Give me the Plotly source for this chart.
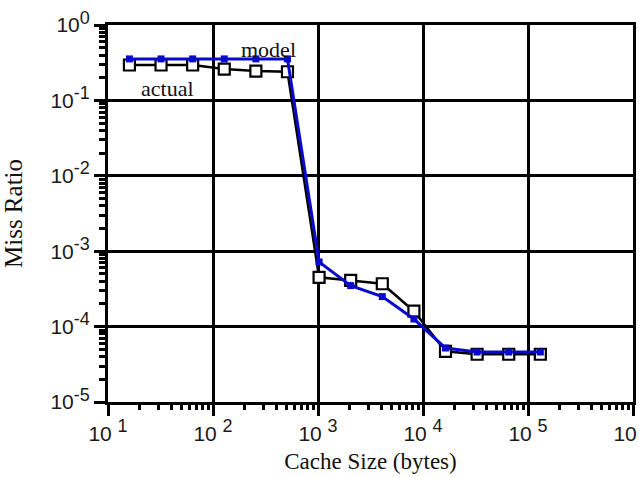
import plotly.graph_objects as go

# Cache sizes in bytes and miss ratios
cache_size = [16, 32, 64, 128, 256, 512, 1024, 2048, 4096, 8192, 16384, 32768, 65536, 131072]
actual_miss = [0.295, 0.295, 0.295, 0.26, 0.245, 0.24, 4.5e-4, 4.1e-4, 3.7e-4, 1.6e-4, 4.7e-5, 4.3e-5, 4.3e-5, 4.3e-5]
model_miss = [0.355, 0.355, 0.355, 0.355, 0.355, 0.355, 7.2e-4, 3.5e-4, 2.5e-4, 1.26e-4, 5.2e-5, 4.6e-5, 4.6e-5, 4.6e-5]

x_exponents = [1, 2, 3, 4, 5, 6]
y_exponents = [0, -1, -2, -3, -4, -5]

TICK_FONT = dict(family="Liberation Sans, Arial, sans-serif", size=21, color="#1a1a1a")
SERIF = "Liberation Serif, Times New Roman, serif"
BLUE = "#0a0acc"


def power_label(exp, gap=""):
    return f"10{gap}<sup><span style='font-size:18px'>{exp}</span></sup>"


fig = go.Figure()

fig.add_trace(go.Scatter(
    x=cache_size, y=actual_miss, mode="lines+markers", name="actual",
    line=dict(color="black", width=2.5),
    marker=dict(symbol="square", size=11, color="white", line=dict(color="black", width=2.2)),
))
fig.add_trace(go.Scatter(
    x=cache_size, y=model_miss, mode="lines+markers", name="model",
    line=dict(color=BLUE, width=3),
    marker=dict(symbol="square", size=7, color=BLUE, line=dict(width=0)),
))

fig.add_annotation(x=2.524, y=-0.33, text="model", showarrow=False,
                   font=dict(family=SERIF, size=22, color="#111"))
fig.add_annotation(x=1.57, y=-0.84, text="actual", showarrow=False,
                   font=dict(family=SERIF, size=22, color="#111"))

axis_common = dict(
    showline=True, linecolor="black", linewidth=3, mirror=True,
    showgrid=True, gridcolor="black", gridwidth=3,
    ticks="outside", ticklen=11, tickwidth=3, tickcolor="black",
    zeroline=False, tickfont=TICK_FONT, automargin=False,
)

fig.update_xaxes(
    type="log", range=[1, 6],
    tickvals=[10 ** e for e in x_exponents],
    ticktext=[power_label(e, " ") for e in x_exponents],
    ticklabeloverflow="allow",
    minor=dict(ticks="outside", ticklen=5, tickwidth=3, tickcolor="black", dtick="D1", showgrid=False),
    title=dict(text="Cache Size (bytes)", font=dict(family=SERIF, size=23, color="#111"), standoff=9),
    **axis_common,
)
fig.update_yaxes(
    type="log", range=[-5, 0],
    tickvals=[10 ** e for e in y_exponents],
    ticktext=[power_label(e) for e in y_exponents],
    minor=dict(ticks="outside", ticklen=6, tickwidth=3, tickcolor="black", dtick="D1", showgrid=False),
    title=dict(text="Miss Ratio", font=dict(family=SERIF, size=25, color="#111"), standoff=23),
    **axis_common,
)

fig.update_layout(
    width=639, height=477,
    margin=dict(l=108, r=6, t=25, b=75),
    paper_bgcolor="white", plot_bgcolor="white",
    showlegend=False,
)

fig.write_html("out.html")
